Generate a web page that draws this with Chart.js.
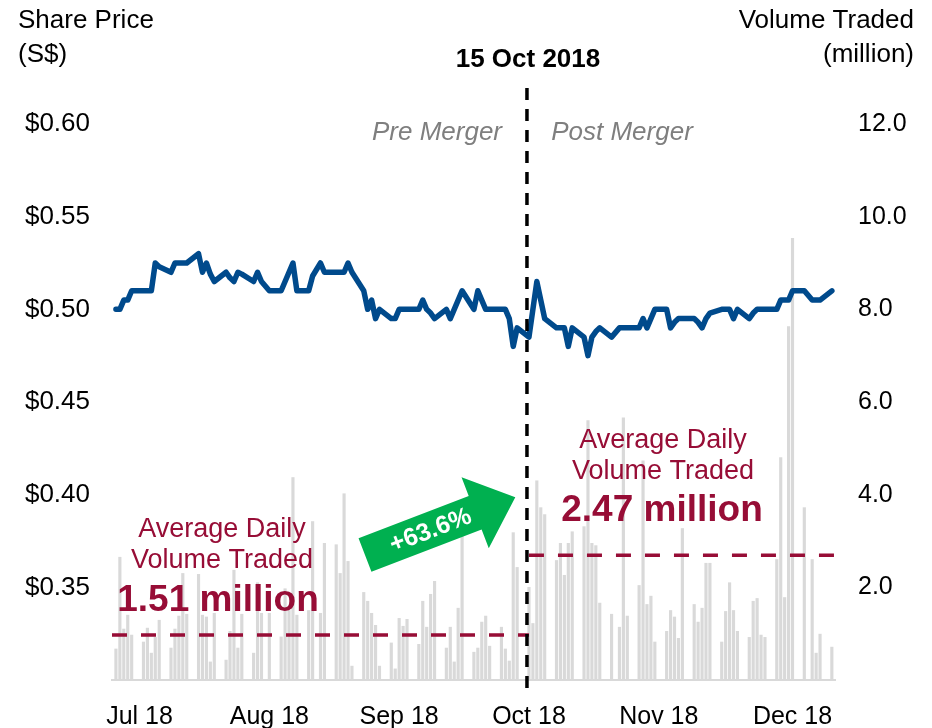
<!DOCTYPE html>
<html>
<head>
<meta charset="utf-8">
<script src="https://cdn.jsdelivr.net/npm/chart.js@4.4.1/dist/chart.umd.min.js"></script>
<style>
  body { margin: 0; background: #fff; }
  #wrap { width: 932px; height: 728px; position: relative; }
</style>
</head>
<body>
<div id="wrap"><canvas id="priceVolumeChart"></canvas></div>
<script>
// SGX trading days, Jul - Dec 2018
const holidays = ['2018-08-09', '2018-08-22', '2018-11-06', '2018-12-25'];
const tradingDays = [];
for (let t = Date.UTC(2018, 6, 2); t <= Date.UTC(2018, 11, 31); t += 86400000) {
    const dt = new Date(t);
    const s = dt.toISOString().slice(0, 10);
    if (dt.getUTCDay() === 0 || dt.getUTCDay() === 6 || holidays.includes(s)) continue;
    tradingDays.push(s);
}

// daily volume traded (million)
const volume = [
    0.67, 2.65, 1.10, 1.40, 0.97, 0.82, 1.12, 0.58, 0.92, 1.29, 0.69, 1.10, 1.38, 2.30, 1.42, 2.28, 1.40, 1.36, 0.39, 1.44, 0.43, 1.05,
    2.37, 0.69, 1.42, 0.58, 2.10, 1.44, 1.44, 0.93, 1.97, 1.50, 4.37, 1.40, 1.50, 3.42, 1.44, 2.95, 2.92, 2.30, 4.02, 2.56, 0.30,
    1.89, 1.70, 1.44, 1.18, 0.30, 0.80, 0.24, 1.33, 1.16, 1.31, 0.77, 1.70, 1.14, 1.85, 2.13, 0.69, 1.14, 0.39, 1.55, 3.38,
    0.60, 0.69, 1.25, 1.38, 0.73, 1.14, 0.67, 0.41, 3.18, 2.43, 2.00, 1.22, 4.30, 3.72, 3.57, 2.58, 2.95, 2.26, 2.95, 3.20, 3.31, 5.60, 2.95,
    2.90, 1.66, 1.42, 1.14, 5.66, 1.38, 2.04, 4.73, 1.63, 1.81, 0.82, 1.05, 1.50, 1.36, 0.90, 3.27, 1.63, 1.25, 1.55, 2.52, 2.52,
    0.82, 1.48, 2.10, 1.50, 1.05, 0.92, 1.70, 1.76, 0.97, 0.92, 2.60, 4.80, 1.78, 7.63, 9.53, 3.72, 2.60, 0.58, 0.99, 0.71
];

// closing share price (S$)
const price = [
    0.500, 0.500, 0.505, 0.505, 0.510, 0.510, 0.510, 0.510, 0.525, 0.523, 0.520, 0.525, 0.525, 0.525, 0.525, 0.530, 0.520, 0.525, 0.519, 0.515, 0.520, 0.517,
    0.515, 0.520, 0.519, 0.515, 0.520, 0.515, 0.510, 0.510, 0.515, 0.520, 0.525, 0.510, 0.510, 0.518, 0.525, 0.520, 0.520, 0.520, 0.520, 0.525, 0.520,
    0.510, 0.500, 0.505, 0.495, 0.500, 0.495, 0.495, 0.500, 0.500, 0.500, 0.500, 0.505, 0.500, 0.498, 0.495, 0.500, 0.495, 0.500, 0.505, 0.510,
    0.500, 0.510, 0.505, 0.500, 0.500, 0.500, 0.500, 0.495, 0.480, 0.490, 0.485, 0.500, 0.515, 0.505, 0.495, 0.490, 0.490, 0.490, 0.480, 0.490, 0.485, 0.475, 0.485,
    0.488, 0.490, 0.485, 0.490, 0.490, 0.490, 0.490, 0.495, 0.490, 0.495, 0.500, 0.500, 0.490, 0.493, 0.495, 0.495, 0.495, 0.493, 0.490, 0.495, 0.498,
    0.500, 0.500, 0.500, 0.495, 0.500, 0.495, 0.498, 0.500, 0.500, 0.500, 0.500, 0.505, 0.505, 0.505, 0.510, 0.510, 0.505, 0.505, 0.505, 0.510
];

const mergerDate = '2018-10-15';
const mergerLabel = '15 Oct 2018';
const periodLabels = ['Pre Merger', 'Post Merger'];
const avgVolume = [1.51, 2.47];        // annotated averages (million)
const avgLineLevel = [0.97, 2.69];     // where the dashed lines sit on the volume axis
const changeLabel = '+63.6%';

const tickDates = ['2018-07-08', '2018-08-10', '2018-09-12', '2018-10-15', '2018-11-17', '2018-12-21'];
const tickLabels = ['Jul 18', 'Aug 18', 'Sep 18', 'Oct 18', 'Nov 18', 'Dec 18'];

const RED = '#970d36';
const FONT = '"Liberation Sans", Arial, sans-serif';

function dayOffset(s) {
    const [y, m, d] = s.split('-').map(Number);
    return (Date.UTC(y, m - 1, d) - Date.UTC(2018, 6, 1)) / 86400000;
}

const xs = tradingDays.map(dayOffset);
const mergerX = dayOffset(mergerDate);
const xMax = 183.8;

const overlay = {
    id: 'overlay',
    afterDatasetsDraw(chart) {
        const ctx = chart.ctx;
        const xScale = chart.scales.x;
        const mx = xScale.getPixelForValue(mergerX) - 2;

        // merger date dashed line
        ctx.save();
        ctx.strokeStyle = '#000';
        ctx.lineWidth = 3.5;
        ctx.setLineDash([12, 9]);
        ctx.beginPath();
        ctx.moveTo(mx, 88);
        ctx.lineTo(mx, 692);
        ctx.stroke();
        ctx.restore();

        // green arrow
        ctx.save();
        ctx.translate(365, 555);
        ctx.rotate(-21 * Math.PI / 180);
        ctx.fillStyle = '#00b050';
        ctx.beginPath();
        ctx.moveTo(0, -18);
        ctx.lineTo(118, -18);
        ctx.lineTo(118, -38);
        ctx.lineTo(161, 0);
        ctx.lineTo(118, 38);
        ctx.lineTo(118, 18);
        ctx.lineTo(0, 18);
        ctx.closePath();
        ctx.fill();
        ctx.fillStyle = '#fff';
        ctx.font = 'bold 25px ' + FONT;
        ctx.textAlign = 'center';
        ctx.textBaseline = 'middle';
        ctx.fillText(changeLabel, 70, 1);
        ctx.restore();

        // texts
        ctx.save();
        ctx.textBaseline = 'middle';
        ctx.textAlign = 'center';
        ctx.fillStyle = '#000';
        ctx.font = 'bold 26px ' + FONT;
        ctx.fillText(mergerLabel, mx + 1, 60);

        ctx.fillStyle = '#7f7f7f';
        ctx.font = 'italic 26px ' + FONT;
        ctx.fillText(periodLabels[0], 437, 133);
        ctx.fillText(periodLabels[1], 622, 133);

        ctx.fillStyle = RED;
        ctx.font = '27px ' + FONT;
        ctx.fillText('Average Daily', 222, 530);
        ctx.fillText('Volume Traded', 222, 561);
        ctx.fillText('Average Daily', 663, 441);
        ctx.fillText('Volume Traded', 663, 472);
        ctx.font = 'bold 37px ' + FONT;
        ctx.fillText(avgVolume[0].toFixed(2) + ' million', 218, 601);
        ctx.fillText(avgVolume[1].toFixed(2) + ' million', 662, 511);

        ctx.fillStyle = '#000';
        ctx.font = '26px ' + FONT;
        ctx.textAlign = 'left';
        ctx.fillText('Share Price', 18, 21);
        ctx.fillText('(S$)', 18, 55);
        ctx.textAlign = 'right';
        ctx.fillText('Volume Traded', 914, 21);
        ctx.fillText('(million)', 914, 55);
        ctx.restore();
    }
};

Chart.defaults.font.family = FONT;
Chart.defaults.color = '#000';

const ctx = document.getElementById('priceVolumeChart').getContext('2d');
const chart = new Chart(ctx, {
    type: 'bar',
    data: {
        datasets: [
            {
                type: 'line',
                label: 'Share Price',
                data: price.map((p, i) => ({ x: xs[i], y: p })),
                yAxisID: 'y',
                borderColor: '#004a8c',
                borderWidth: 5.5,
                pointRadius: 0,
                tension: 0,
                borderJoinStyle: 'round',
                borderCapStyle: 'round',
                order: 1
            },
            {
                type: 'line',
                label: 'Pre Avg',
                data: [{ x: 0, y: avgLineLevel[0] }, { x: mergerX, y: avgLineLevel[0] }],
                yAxisID: 'y2',
                borderColor: RED,
                borderWidth: 3.5,
                borderDash: [15, 14],
                pointRadius: 0,
                order: 2
            },
            {
                type: 'line',
                label: 'Post Avg',
                data: [{ x: mergerX, y: avgLineLevel[1] }, { x: xMax, y: avgLineLevel[1] }],
                yAxisID: 'y2',
                borderColor: RED,
                borderWidth: 3.5,
                borderDash: [15, 14],
                pointRadius: 0,
                order: 2
            },
            {
                label: 'Volume',
                data: volume.map((v, i) => ({ x: xs[i], y: v })),
                yAxisID: 'y2',
                backgroundColor: '#d9d9d9',
                barThickness: 2.5,
                order: 3
            }
        ]
    },
    options: {
        responsive: true,
        maintainAspectRatio: false,
        animation: false,
        layout: { padding: { top: 124, left: 0, right: 0, bottom: 0 } },
        plugins: {
            legend: { display: false },
            tooltip: { enabled: false }
        },
        scales: {
            x: {
                type: 'linear',
                offset: false,
                min: 0,
                max: xMax,
                grid: { display: false },
                border: { display: true, color: '#d9d9d9', width: 2 },
                afterBuildTicks: function(scale) {
                    scale.ticks = tickDates.map(d => ({ value: dayOffset(d) }));
                },
                afterFit: function(scale) { scale.height = 48; },
                ticks: {
                    autoSkip: false,
                    maxRotation: 0,
                    padding: 14,
                    font: { size: 25 },
                    callback: function(value, index) { return tickLabels[index]; }
                }
            },
            y: {
                position: 'left',
                min: 0.30,
                max: 0.60,
                grid: { display: false, drawTicks: false },
                border: { display: false },
                afterFit: function(scale) { scale.width = 112; },
                ticks: {
                    stepSize: 0.05,
                    padding: 22,
                    font: { size: 26 },
                    callback: function(v) { return v < 0.3001 ? '' : '$' + v.toFixed(2); }
                }
            },
            y2: {
                position: 'right',
                min: 0,
                max: 12,
                grid: { display: false, drawTicks: false },
                border: { display: false },
                afterFit: function(scale) { scale.width = 97; },
                ticks: {
                    stepSize: 2,
                    padding: 23,
                    font: { size: 25 },
                    callback: function(v) { return v === 0 ? '' : v.toFixed(1); }
                }
            }
        }
    },
    plugins: [overlay]
});
</script>
</body>
</html>
